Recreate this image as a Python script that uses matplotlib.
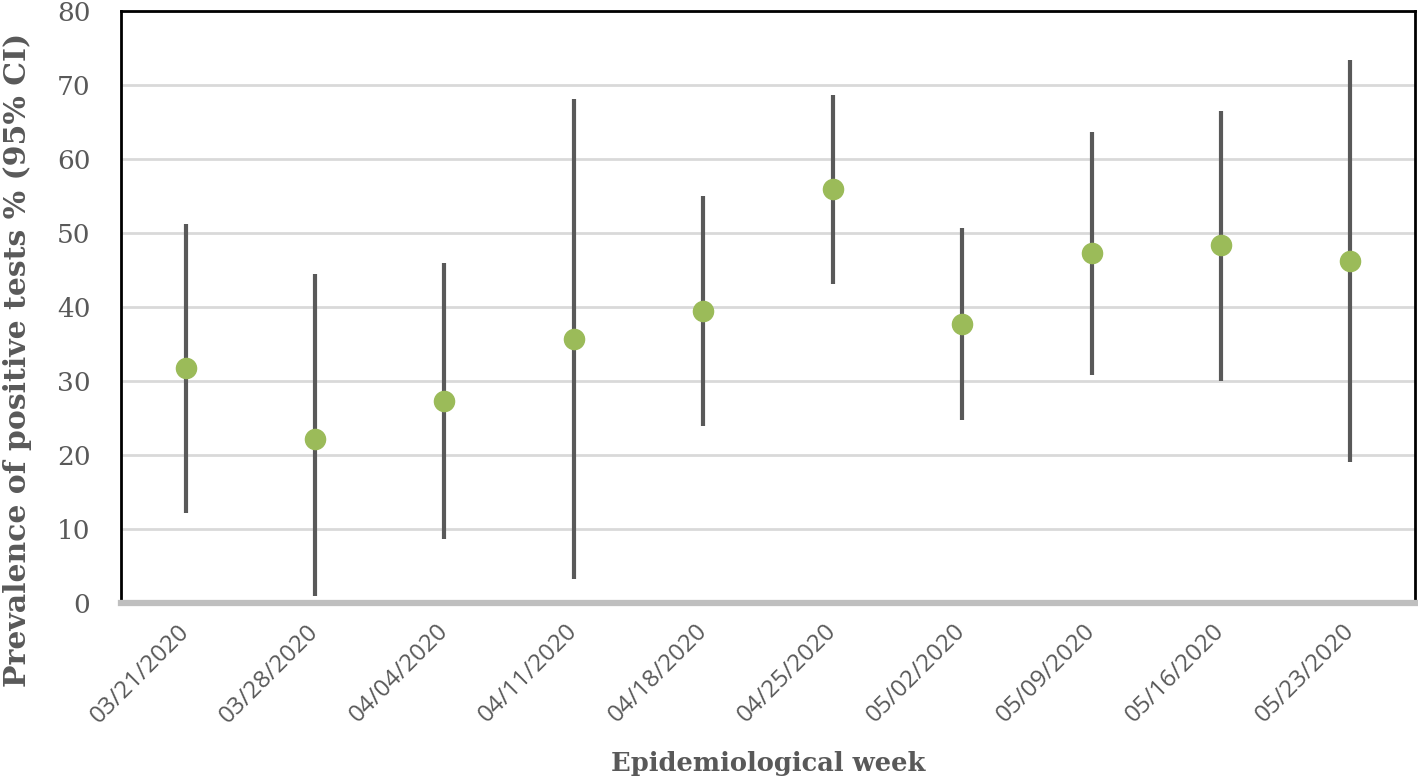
import matplotlib
matplotlib.use("Agg")
import matplotlib.pyplot as plt

weeks = ["03/21/2020", "03/28/2020", "04/04/2020", "04/11/2020", "04/18/2020",
         "04/25/2020", "05/02/2020", "05/09/2020", "05/16/2020", "05/23/2020"]
prevalence = [31.8, 22.2, 27.3, 35.7, 39.5, 55.9, 37.7, 47.3, 48.4, 46.2]
ci_low = [12.2, 0.9, 8.6, 3.2, 23.9, 43.1, 24.7, 30.8, 30.0, 19.1]
ci_high = [51.2, 44.5, 45.9, 68.1, 55.0, 68.6, 50.7, 63.6, 66.5, 73.4]

grey = "#595959"
fig = plt.figure(figsize=(14.18, 7.81), dpi=100)
ax = fig.add_axes([0.0853, 0.2279, 0.9126, 0.758])

x = list(range(len(weeks)))
ax.vlines(x, ci_low, ci_high, color=grey, linewidth=3.0, zorder=3)
ax.plot(x, prevalence, "o", color="#9BBB59", markersize=14.5, zorder=4)

ax.set_xlim(-0.5, len(weeks) - 0.5)
ax.set_ylim(0, 80)
ax.set_yticks(range(0, 81, 10))
ax.yaxis.grid(True, color="#D9D9D9", linewidth=2)
ax.set_axisbelow(True)

for s in ["left", "top", "right"]:
    ax.spines[s].set_color("black")
    ax.spines[s].set_linewidth(2)
ax.spines["bottom"].set_color("#BFBFBF")
ax.spines["bottom"].set_linewidth(4.5)

ax.tick_params(axis="y", length=0, pad=22, labelsize=19, labelcolor=grey)
ax.tick_params(axis="x", length=0, pad=18, labelcolor=grey)
for lab in ax.get_yticklabels():
    lab.set_fontfamily("DejaVu Serif")
ax.set_xticks(x)
ax.set_xticklabels(weeks, rotation=45, ha="right", va="center",
                   rotation_mode="anchor", fontsize=17.5, family="Open Sans")

ax.set_ylabel("Prevalence of positive tests % (95% CI)", fontsize=21.5,
              fontweight="bold", family="DejaVu Serif", color=grey)
ax.yaxis.set_label_coords(-0.069, 0.41)
ax.set_xlabel("Epidemiological week", fontsize=18.5, fontweight="bold",
              family="DejaVu Serif", color=grey)
ax.xaxis.set_label_coords(0.5, -0.25)

fig.savefig("out.png", dpi=100)
